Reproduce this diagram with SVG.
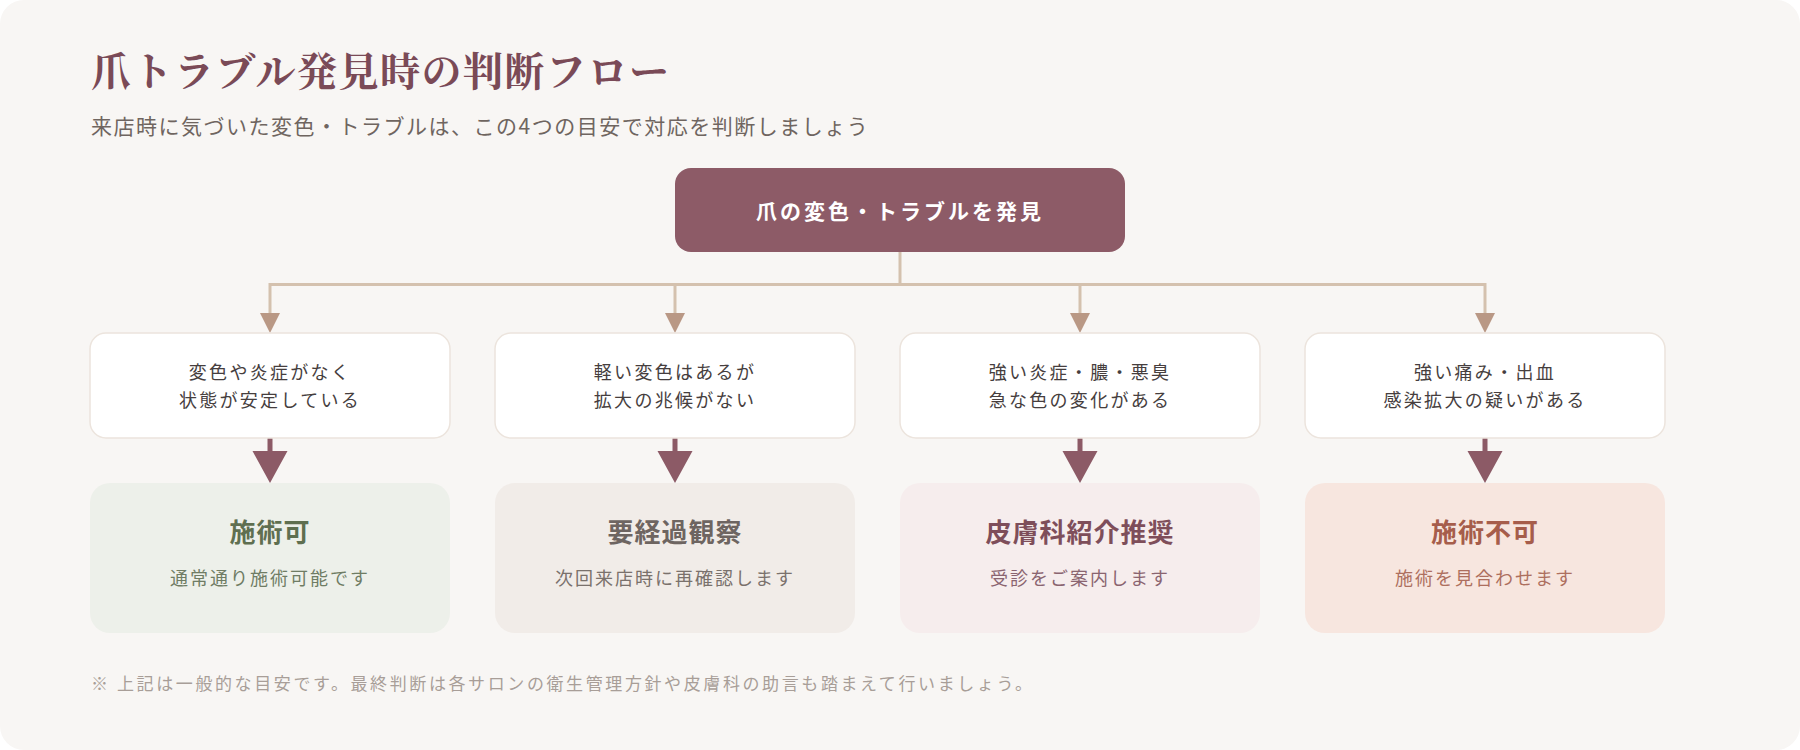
<svg xmlns="http://www.w3.org/2000/svg" width="1800" height="750" viewBox="0 0 1800 750">
  <style>
    .sans { font-family: "Noto Sans CJK JP", "Noto Sans", sans-serif; }
    .title { font-family: "Noto Serif CJK JP", "Noto Sans CJK JP", serif; font-size: 40px; font-weight: 700; fill: #7a4a57; letter-spacing: 1.5px; }
    .subtitle { font-size: 21px; fill: #6f6560; letter-spacing: 1.5px; }
    .topText { font-size: 21px; font-weight: 700; fill: #ffffff; letter-spacing: 3px; }
    .cond { fill: #ffffff; stroke: #ece4dd; stroke-width: 1.5; }
    .condText { font-size: 18px; fill: #463e3e; letter-spacing: 2.3px; }
    .resTitle { font-size: 26px; font-weight: 700; letter-spacing: 1px; }
    .resSub { font-size: 18px; letter-spacing: 2px; }
    .foot { font-size: 17px; fill: #a89e98; letter-spacing: 2.6px; }
    .tan { stroke: #d4c1ae; stroke-width: 3; fill: none; }
    .dark { stroke: #8c5a66; stroke-width: 5; fill: none; }
  </style>

  <rect x="0" y="0" width="1800" height="750" fill="#ffffff"/>
  <rect id="card" x="0" y="0" width="1800" height="750" rx="24" fill="#f8f6f4"/>

  <text class="title" x="91" y="86">爪トラブル発見時の判断フロー</text>
  <text class="sans subtitle" x="91" y="134">来店時に気づいた変色・トラブルは、この4つの目安で対応を判断しましょう</text>

  <g id="connectors">
    <path class="tan" d="M900,252 V284.5 M270,284.5 H1485"/>
    <path class="tan" d="M270,283 L270,313 M675,283 L675,313 M1080,283 L1080,313 M1485,283 L1485,313"/>
    <path d="M260,313 L280,313 L270,333 Z M665,313 L685,313 L675,333 Z M1070,313 L1090,313 L1080,333 Z M1475,313 L1495,313 L1485,333 Z" fill="#b99885"/>
    <path class="dark" d="M270,438 V452 M675,438 V452 M1080,438 V452 M1485,438 V452"/>
    <path d="M252.5,451 L287.5,451 L270,483 Z M657.5,451 L692.5,451 L675,483 Z M1062.5,451 L1097.5,451 L1080,483 Z M1467.5,451 L1502.5,451 L1485,483 Z" fill="#8c5a66"/>
  </g>

  <g id="start">
    <rect x="675" y="168" width="450" height="84" rx="16" fill="#8d5b67"/>
    <text class="sans topText" x="900" y="219" text-anchor="middle">爪の変色・トラブルを発見</text>
  </g>

  <g id="cond1">
    <rect class="cond" x="90" y="333" width="360" height="105" rx="16"/>
    <text class="sans condText" x="270" y="379" text-anchor="middle">変色や炎症がなく</text>
    <text class="sans condText" x="270" y="407" text-anchor="middle">状態が安定している</text>
  </g>
  <g id="cond2">
    <rect class="cond" x="495" y="333" width="360" height="105" rx="16"/>
    <text class="sans condText" x="675" y="379" text-anchor="middle">軽い変色はあるが</text>
    <text class="sans condText" x="675" y="407" text-anchor="middle">拡大の兆候がない</text>
  </g>
  <g id="cond3">
    <rect class="cond" x="900" y="333" width="360" height="105" rx="16"/>
    <text class="sans condText" x="1080" y="379" text-anchor="middle">強い炎症・膿・悪臭</text>
    <text class="sans condText" x="1080" y="407" text-anchor="middle">急な色の変化がある</text>
  </g>
  <g id="cond4">
    <rect class="cond" x="1305" y="333" width="360" height="105" rx="16"/>
    <text class="sans condText" x="1485" y="379" text-anchor="middle">強い痛み・出血</text>
    <text class="sans condText" x="1485" y="407" text-anchor="middle">感染拡大の疑いがある</text>
  </g>

  <g id="res1">
    <rect x="90" y="483" width="360" height="150" rx="20" fill="#edf0ea"/>
    <text class="sans resTitle" x="270" y="542" text-anchor="middle" fill="#5f6f50">施術可</text>
    <text class="sans resSub" x="270" y="585" text-anchor="middle" fill="#6f7c64">通常通り施術可能です</text>
  </g>
  <g id="res2">
    <rect x="495" y="483" width="360" height="150" rx="20" fill="#f1ece8"/>
    <text class="sans resTitle" x="675" y="542" text-anchor="middle" fill="#6e6561">要経過観察</text>
    <text class="sans resSub" x="675" y="585" text-anchor="middle" fill="#7a716c">次回来店時に再確認します</text>
  </g>
  <g id="res3">
    <rect x="900" y="483" width="360" height="150" rx="20" fill="#f6eded"/>
    <text class="sans resTitle" x="1080" y="542" text-anchor="middle" fill="#7e4e5a">皮膚科紹介推奨</text>
    <text class="sans resSub" x="1080" y="585" text-anchor="middle" fill="#8a6470">受診をご案内します</text>
  </g>
  <g id="res4">
    <rect x="1305" y="483" width="360" height="150" rx="20" fill="#f7e6df"/>
    <text class="sans resTitle" x="1485" y="542" text-anchor="middle" fill="#a65d4b">施術不可</text>
    <text class="sans resSub" x="1485" y="585" text-anchor="middle" fill="#ad6f5e">施術を見合わせます</text>
  </g>

  <text class="sans foot" x="91" y="690">※ 上記は一般的な目安です。最終判断は各サロンの衛生管理方針や皮膚科の助言も踏まえて行いましょう。</text>
</svg>
